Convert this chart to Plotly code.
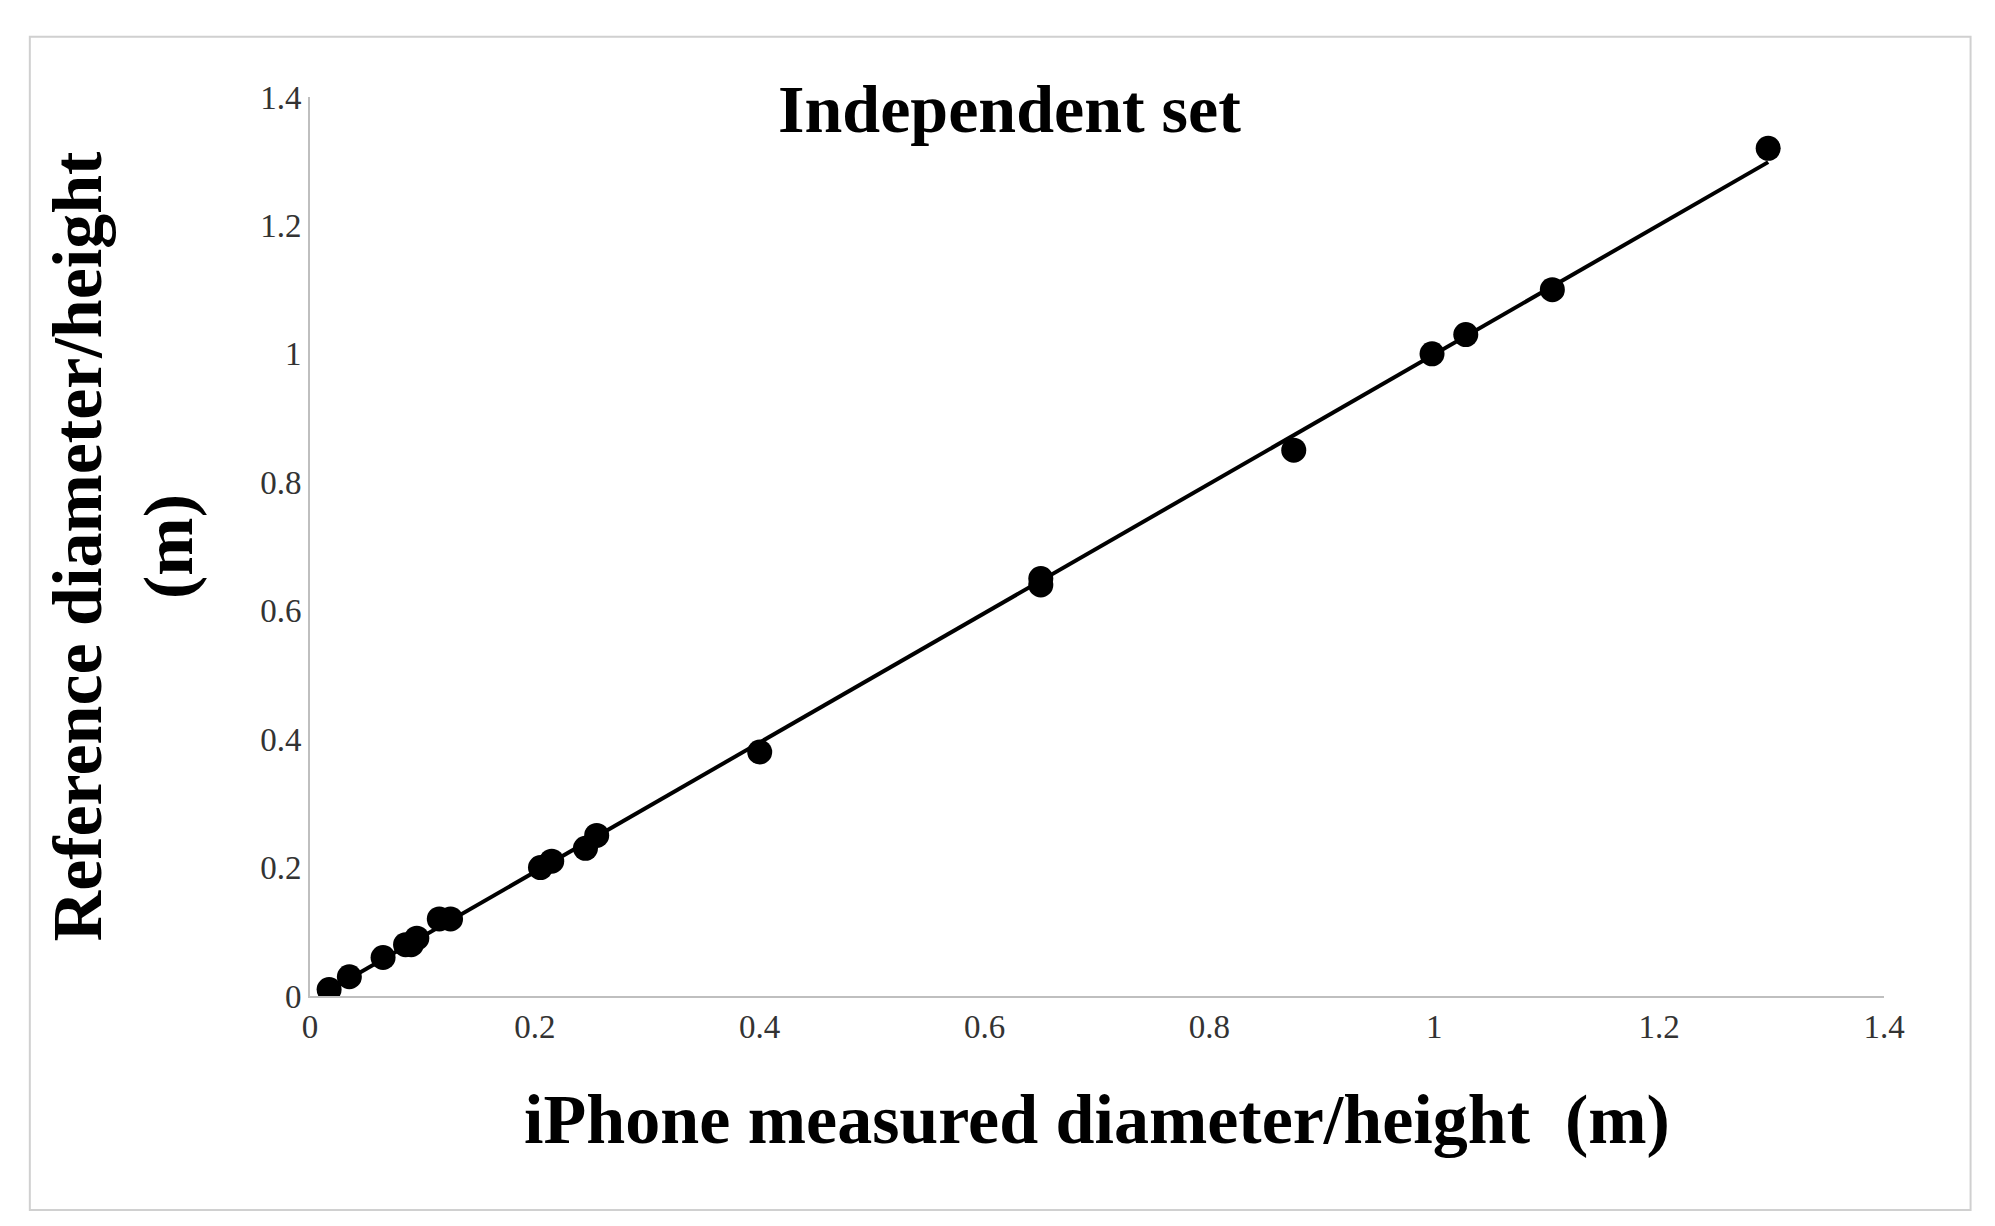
import numpy as np
import plotly.graph_objects as go

iphone = [0.017, 0.035, 0.065, 0.085, 0.09, 0.095, 0.115, 0.125, 0.205, 0.215,
          0.245, 0.255, 0.40, 0.65, 0.65, 0.875, 0.998, 1.028, 1.105, 1.297]
reference = [0.01, 0.03, 0.06, 0.08, 0.08, 0.09, 0.12, 0.12, 0.20, 0.21,
             0.23, 0.25, 0.38, 0.65, 0.64, 0.85, 1.00, 1.03, 1.10, 1.32]
ticks = [0, 0.2, 0.4, 0.6, 0.8, 1, 1.2, 1.4]

slope, icpt = np.polyfit(iphone, reference, 1)
lx = [min(iphone), max(iphone)]
ly = [slope * v + icpt for v in lx]

fig = go.Figure()
fig.add_trace(go.Scatter(x=lx, y=ly, mode="lines", line=dict(color="black", width=4), showlegend=False))
fig.add_trace(go.Scatter(x=iphone, y=reference, mode="markers",
                         marker=dict(color="black", size=25), showlegend=False))
font = "Liberation Serif"
fig.update_layout(
    width=1995, height=1226, paper_bgcolor="white", plot_bgcolor="white",
    margin=dict(l=302, r=119, t=89, b=238),
    font=dict(family=font, color="black"),
    title=dict(text="<b>Independent set</b>", x=0.502, xanchor="center", y=0.918, yanchor="middle",
               font=dict(size=68, family=font)),
    xaxis=dict(range=[0, 1.4], tickvals=ticks, ticktext=[str(t) for t in ticks],
               showgrid=False, zeroline=False, showline=True, linecolor="#bfbfbf", linewidth=2,
               ticks="", tickfont=dict(size=33, color="#333"),
               title=dict(text="<b>iPhone measured diameter/height  (m)</b>", font=dict(size=70), standoff=50)),
    yaxis=dict(range=[0, 1.4], tickvals=ticks, ticktext=[str(t) for t in ticks],
               showgrid=False, zeroline=False, showline=True, linecolor="#bfbfbf", linewidth=2,
               ticks="", tickfont=dict(size=33, color="#333"),
               title=dict(text="<b>Reference diameter/height<br>(m)</b>", font=dict(size=70), standoff=45)),
    shapes=[dict(type="rect", xref="paper", yref="paper", x0=-0.178, x1=1.055, y0=-0.238, y1=1.067,
                 line=dict(color="#d0d0d0", width=2))],
)
fig.write_html("out.html")
